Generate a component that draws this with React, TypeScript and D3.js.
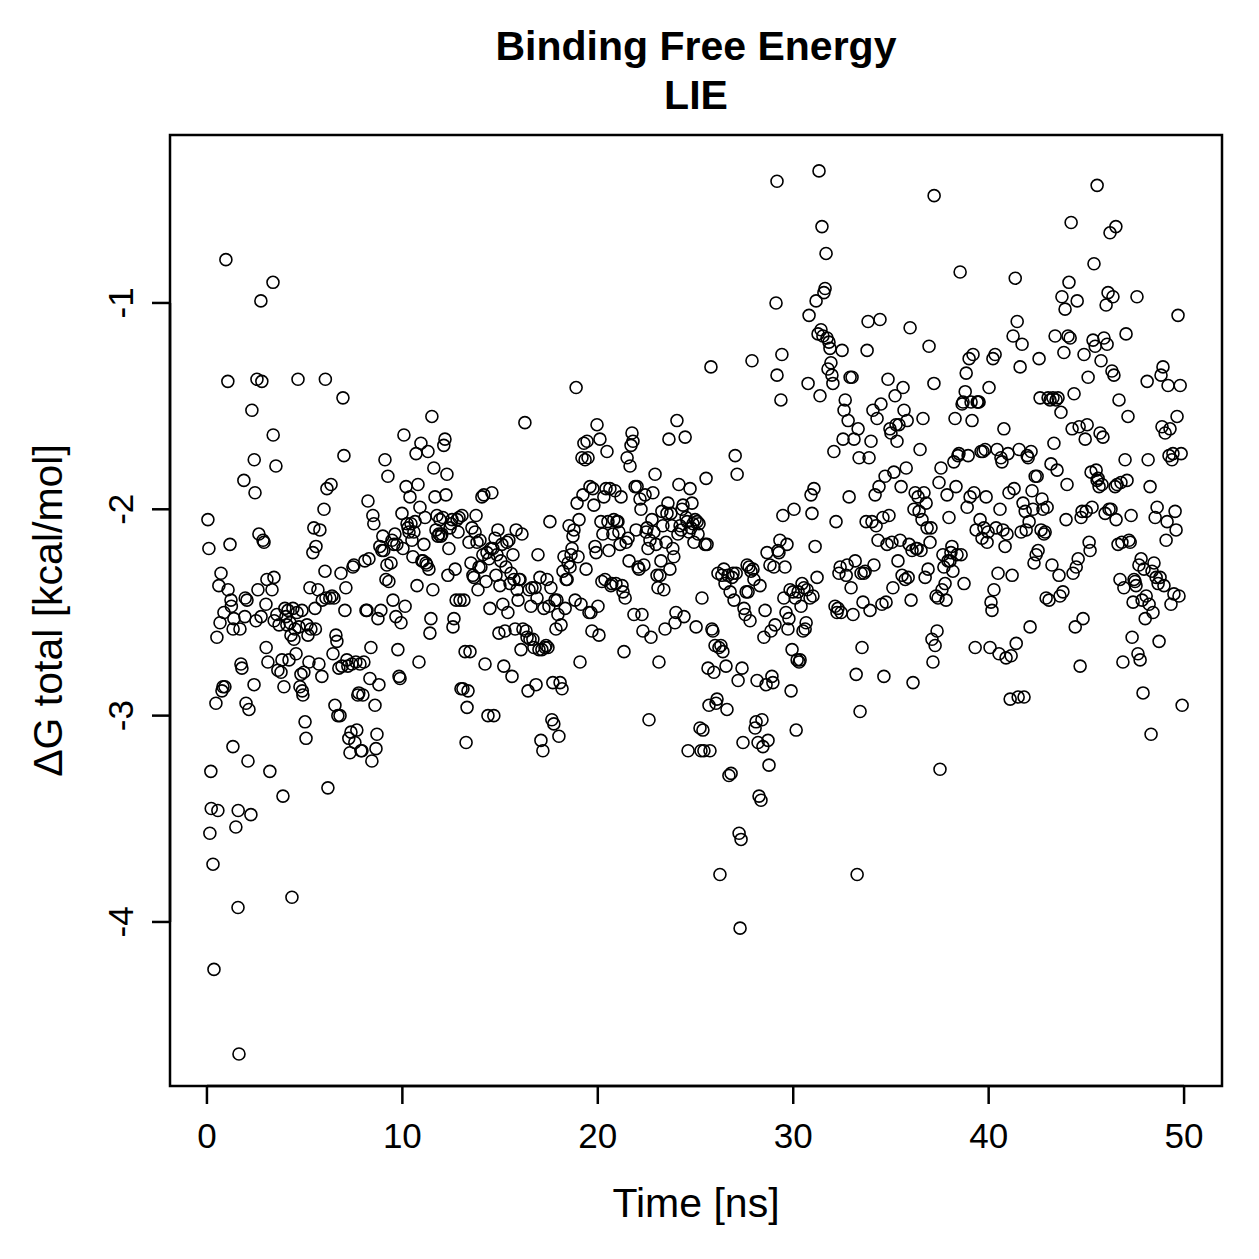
import React from 'react';
import * as d3 from 'd3';

// LIE binding free energy trace: [time (ns), dG (kcal/mol)]
const points: [number, number][] = [
  [0.05,-2.05],[0.10,-2.19],[0.15,-3.57],[0.20,-3.27],[0.22,-3.45],[0.31,-3.72],[0.36,-4.23],[0.46,-2.94],[0.51,-2.62],[0.56,-3.46],
  [0.61,-2.37],[0.67,-2.55],[0.72,-2.31],[0.77,-2.88],[0.82,-2.86],[0.87,-2.50],[0.92,-2.86],[0.97,-0.79],[1.07,-1.38],[1.08,-2.39],
  [1.18,-2.17],[1.23,-2.44],[1.25,-2.47],[1.33,-3.15],[1.34,-2.58],[1.38,-2.53],[1.48,-3.54],[1.59,-3.93],[1.60,-3.46],[1.64,-4.64],
  [1.69,-2.58],[1.74,-2.75],[1.79,-2.77],[1.89,-1.86],[1.94,-2.52],[1.96,-2.43],[2.00,-2.94],[2.05,-2.44],[2.10,-3.22],[2.15,-2.97],
  [2.25,-3.48],[2.30,-1.52],[2.41,-2.85],[2.42,-1.76],[2.46,-1.92],[2.51,-2.54],[2.56,-1.37],[2.61,-2.39],[2.66,-2.12],[2.76,-0.99],
  [2.77,-2.52],[2.81,-1.38],[2.87,-2.15],[2.92,-2.16],[3.02,-2.46],[3.03,-2.67],[3.07,-2.34],[3.12,-2.74],[3.22,-3.27],[3.33,-2.39],
  [3.38,-0.90],[3.39,-1.64],[3.43,-2.33],[3.44,-2.54],[3.53,-1.79],[3.58,-2.51],[3.63,-2.78],[3.69,-2.56],[3.79,-2.79],[3.84,-2.73],
  [3.89,-3.39],[3.94,-2.86],[3.99,-2.48],[4.04,-2.52],[4.09,-2.56],[4.15,-2.49],[4.20,-2.73],[4.25,-2.55],[4.30,-2.61],[4.35,-3.88],
  [4.40,-2.48],[4.45,-2.63],[4.50,-2.58],[4.56,-2.70],[4.61,-2.50],[4.66,-1.37],[4.71,-2.57],
  [4.76,-2.86],[4.81,-2.80],[4.86,-2.49],[4.88,-2.88],[4.91,-2.90],[4.96,-2.79],[5.02,-3.03],[5.07,-3.11],[5.12,-2.56],[5.17,-2.61],[5.22,-2.74],
  [5.27,-2.38],[5.32,-2.58],[5.42,-2.21],[5.47,-2.09],[5.53,-2.48],[5.55,-2.58],[5.58,-2.18],[5.68,-2.39],[5.73,-2.75],
  [5.78,-2.10],[5.88,-2.81],[5.90,-2.44],[5.99,-2.00],[6.04,-2.30],[6.06,-1.37],[6.09,-2.43],[6.14,-1.90],[6.19,-3.35],
  [6.29,-2.43],[6.35,-1.88],[6.40,-2.42],[6.45,-2.70],[6.50,-2.43],[6.55,-2.95],[6.60,-2.61],[6.65,-2.64],[6.70,-3.00],[6.75,-2.77],
  [6.81,-3.00],[6.86,-2.31],[6.91,-2.76],[6.96,-1.46],[7.01,-1.74],[7.06,-2.49],[7.11,-2.38],[7.16,-2.73],[7.21,-2.76],[7.26,-3.11],
  [7.32,-3.18],[7.37,-3.08],[7.42,-2.75],[7.47,-2.28],[7.52,-2.27],[7.57,-3.13],[7.62,-2.74],[7.67,-3.07],[7.72,-2.90],[7.77,-2.89],
  [7.83,-2.75],[7.88,-3.17],[7.93,-3.17],[7.98,-2.90],[8.03,-2.74],[8.08,-2.25],[8.14,-2.49],[8.19,-2.49],[8.24,-1.96],[8.29,-2.24],
  [8.34,-2.82],[8.39,-2.67],[8.44,-3.22],[8.49,-2.03],[8.54,-2.07],[8.60,-2.95],[8.65,-3.16],[8.70,-3.09],[8.75,-2.53],[8.80,-2.85],
  [8.85,-2.18],[8.90,-2.49],[8.95,-2.20],[9.00,-2.13],[9.05,-2.20],[9.11,-1.76],[9.16,-2.34],[9.21,-2.27],[9.26,-1.84],[9.31,-2.35],
  [9.42,-2.26],[9.47,-2.15],[9.52,-2.44],[9.57,-2.17],[9.62,-2.12],[9.67,-2.52],[9.72,-2.17],[9.77,-2.68],[9.83,-2.81],
  [9.88,-2.82],[9.93,-2.55],[9.98,-2.02],[10.03,-2.19],[10.08,-1.64],[10.14,-2.47],[10.19,-1.89],[10.24,-2.07],[10.29,-2.09],[10.34,-2.11],
  [10.39,-1.94],[10.44,-2.07],[10.49,-2.15],[10.54,-2.23],[10.59,-2.11],[10.65,-2.06],[10.70,-1.73],[10.75,-2.37],[10.80,-1.88],[10.85,-2.74],
  [10.90,-1.99],[10.95,-1.68],[11.00,-2.25],[11.05,-2.25],[11.10,-2.17],[11.16,-2.04],[11.21,-2.26],[11.26,-2.27],[11.31,-1.72],[11.36,-2.29],
  [11.41,-2.60],[11.46,-2.53],[11.51,-1.55],[11.56,-2.39],[11.61,-1.80],[11.67,-1.94],[11.72,-2.10],[11.77,-2.03],[11.82,-2.13],[11.87,-2.12],
  [11.92,-2.05],[11.97,-2.13],[12.02,-2.12],[12.07,-2.04],[12.12,-1.69],[12.18,-1.66],[12.23,-1.93],[12.28,-1.83],[12.33,-2.32],[12.38,-2.19],
  [12.44,-2.09],[12.49,-2.07],[12.54,-2.05],[12.59,-2.57],[12.64,-2.53],[12.70,-2.29],[12.75,-2.44],[12.80,-2.05],[12.85,-2.11],[12.90,-2.04],
  [12.95,-2.44],[13.00,-2.87],[13.05,-2.03],[13.10,-2.87],[13.15,-2.44],[13.21,-2.69],[13.26,-3.13],[13.31,-2.96],[13.36,-2.88],[13.41,-2.16],
  [13.46,-2.69],[13.51,-2.26],[13.56,-2.09],[13.61,-2.32],[13.66,-2.33],[13.72,-2.11],[13.77,-2.03],[13.82,-2.16],[13.87,-2.39],[13.92,-2.28],
  [13.97,-2.15],[14.02,-2.28],[14.07,-1.94],[14.12,-2.22],[14.17,-1.93],[14.23,-2.75],[14.28,-2.35],[14.33,-2.21],[14.38,-3.00],[14.43,-2.24],
  [14.48,-2.48],[14.53,-2.19],[14.58,-1.92],[14.63,-2.19],[14.68,-3.00],[14.74,-2.14],[14.79,-2.32],[14.84,-2.22],[14.89,-2.10],[14.94,-2.60],
  [14.99,-2.37],[15.04,-2.25],[15.09,-2.17],[15.14,-2.46],[15.19,-2.76],[15.25,-2.59],[15.30,-2.28],[15.35,-2.16],[15.40,-2.50],[15.45,-2.15],
  [15.51,-2.36],[15.56,-2.31],[15.61,-2.81],[15.66,-2.22],[15.71,-2.34],[15.77,-2.58],[15.82,-2.10],[15.87,-2.39],[15.92,-2.44],[15.97,-2.34],
  [16.02,-2.34],[16.07,-2.68],[16.12,-2.12],[16.17,-2.58],[16.27,-1.58],[16.33,-2.59],[16.38,-2.62],[16.43,-2.88],[16.48,-2.39],
  [16.53,-2.63],[16.58,-2.47],[16.63,-2.38],[16.68,-2.63],[16.73,-2.67],[16.79,-2.38],[16.84,-2.85],[16.89,-2.43],[16.94,-2.22],[16.99,-2.68],
  [17.04,-2.33],[17.09,-3.12],[17.14,-2.68],[17.19,-3.17],[17.24,-2.48],[17.30,-2.67],[17.35,-2.66],[17.40,-2.34],[17.45,-2.67],[17.50,-2.47],
  [17.55,-2.06],[17.60,-2.38],[17.65,-3.02],[17.70,-2.84],[17.75,-3.04],[17.81,-2.44],[17.86,-2.58],[17.91,-2.44],[17.96,-2.51],[18.01,-3.10],
  [18.07,-2.84],[18.12,-2.56],[18.17,-2.87],[18.22,-2.30],[18.27,-2.23],[18.33,-2.48],[18.38,-2.34],[18.43,-2.34],[18.48,-2.26],[18.53,-2.08],
  [18.58,-2.28],[18.63,-2.22],[18.68,-2.19],[18.73,-2.13],[18.78,-2.10],[18.84,-2.44],[18.89,-1.41],[18.94,-1.97],[18.99,-2.23],[19.04,-2.05],
  [19.09,-2.74],[19.14,-2.46],[19.19,-1.75],[19.24,-1.93],[19.29,-1.68],[19.35,-1.76],[19.40,-2.29],[19.45,-1.67],[19.50,-1.75],[19.55,-2.50],
  [19.60,-1.89],[19.65,-2.50],[19.70,-2.59],[19.75,-1.90],[19.80,-1.98],[19.86,-2.18],[19.91,-2.21],[19.96,-1.59],[20.01,-2.47],[20.06,-2.61],
  [20.11,-1.66],[20.16,-2.06],[20.21,-2.35],[20.26,-2.12],[20.31,-1.94],[20.37,-2.34],[20.42,-1.90],[20.47,-1.72],[20.52,-2.06],[20.57,-2.20],
  [20.62,-1.90],[20.67,-2.37],[20.72,-2.36],[20.77,-2.12],[20.82,-2.05],[20.88,-1.91],[20.93,-2.36],[20.98,-2.06],[21.03,-2.06],[21.08,-2.11],
  [21.14,-2.17],[21.19,-1.94],[21.24,-2.37],[21.29,-2.40],[21.34,-2.69],[21.40,-2.43],[21.45,-2.16],[21.50,-1.75],[21.55,-2.14],[21.60,-2.25],
  [21.65,-1.79],[21.70,-1.69],[21.75,-1.63],[21.80,-1.67],[21.85,-2.51],[21.91,-1.89],[21.96,-2.10],[22.01,-1.89],[22.06,-2.28],[22.11,-2.29],
  [22.16,-1.95],[22.21,-2.00],[22.26,-2.51],[22.31,-2.59],[22.36,-2.27],[22.42,-1.93],[22.47,-2.11],[22.52,-2.09],[22.57,-2.19],[22.62,-3.02],
  [22.67,-2.15],[22.72,-2.62],[22.77,-2.05],[22.82,-1.92],[22.87,-2.11],[22.93,-1.83],[22.98,-2.17],[23.03,-2.32],[23.08,-2.38],[23.13,-2.74],
  [23.18,-2.32],[23.23,-2.25],[23.28,-2.01],[23.33,-2.08],[23.38,-2.39],[23.44,-2.58],[23.49,-2.16],[23.54,-2.02],[23.59,-1.97],[23.64,-1.66],
  [23.69,-2.29],[23.74,-2.02],[23.79,-2.08],[23.84,-2.19],[23.89,-2.23],[23.95,-2.55],[24.00,-2.50],[24.05,-1.57],[24.10,-2.12],[24.15,-1.88],
  [24.21,-2.08],[24.26,-2.10],[24.31,-2.00],[24.36,-1.98],[24.41,-2.52],[24.47,-1.65],[24.52,-2.04],[24.57,-2.06],[24.62,-3.17],[24.67,-2.11],
  [24.72,-1.90],[24.77,-2.09],[24.82,-1.97],[24.87,-2.07],[24.92,-2.16],[24.98,-2.05],[25.03,-2.57],[25.08,-2.06],[25.13,-2.12],[25.18,-2.07],
  [25.23,-3.06],[25.28,-3.17],[25.33,-2.43],[25.38,-3.07],[25.43,-3.17],[25.49,-2.17],[25.54,-1.85],[25.59,-2.17],[25.64,-2.77],[25.69,-2.95],
  [25.74,-3.17],[25.79,-1.31],[25.84,-2.58],[25.89,-2.59],[25.94,-2.79],[26.00,-2.66],[26.05,-2.94],[26.10,-2.92],[26.15,-2.31],[26.20,-2.67],
  [26.25,-3.77],[26.30,-2.66],[26.35,-2.32],[26.40,-2.69],[26.45,-2.29],[26.51,-2.36],[26.56,-2.76],[26.61,-2.97],[26.66,-2.32],[26.71,-3.29],
  [26.77,-2.40],[26.82,-3.28],[26.87,-2.33],[26.92,-2.31],[26.97,-2.44],[27.03,-1.74],[27.08,-2.31],[27.13,-1.83],[27.18,-2.83],[27.23,-3.57],
  [27.28,-4.03],[27.33,-3.60],[27.38,-2.77],[27.43,-3.13],[27.48,-2.48],[27.54,-2.51],[27.59,-2.40],[27.64,-2.27],[27.69,-2.40],[27.74,-2.28],
  [27.79,-2.54],[27.84,-2.30],[27.89,-1.28],[27.94,-2.29],[27.99,-2.34],[28.05,-3.06],[28.10,-3.03],[28.15,-2.83],[28.20,-3.13],[28.25,-3.39],
  [28.30,-2.37],[28.35,-3.41],[28.40,-3.02],[28.45,-3.15],[28.50,-2.62],[28.56,-2.49],[28.61,-2.85],[28.66,-2.21],[28.71,-3.12],[28.76,-3.24],
  [28.81,-2.27],[28.86,-2.59],[28.91,-2.81],[28.96,-2.84],[29.01,-2.28],[29.07,-2.56],[29.12,-1.00],[29.17,-0.41],[29.17,-1.35],[29.22,-2.20],[29.27,-2.21],
  [29.32,-2.15],[29.37,-1.47],[29.42,-1.25],[29.47,-2.03],[29.52,-2.43],[29.58,-2.28],[29.63,-2.50],[29.68,-2.17],[29.73,-2.58],[29.78,-2.53],
  [29.84,-2.39],[29.89,-2.88],[29.94,-2.68],[29.99,-2.40],[30.04,-2.00],[30.10,-2.43],[30.15,-3.07],[30.20,-2.73],[30.25,-2.40],[30.30,-2.74],
  [30.35,-2.73],[30.40,-2.47],[30.45,-2.36],[30.50,-2.59],[30.55,-2.38],[30.61,-2.58],[30.66,-2.55],[30.71,-2.39],[30.76,-1.39],[30.81,-1.06],
  [30.86,-2.43],[30.91,-1.93],[30.96,-2.02],[31.01,-2.42],[31.06,-1.90],[31.12,-2.18],[31.17,-0.99],[31.22,-2.33],[31.27,-1.15],[31.32,-0.36],
  [31.37,-1.45],[31.42,-1.13],[31.47,-0.63],[31.52,-1.16],[31.57,-0.95],[31.63,-0.93],[31.68,-0.76],[31.73,-1.17],[31.78,-1.32],[31.83,-1.19],
  [31.88,-1.22],[31.93,-1.29],[31.98,-1.35],[32.03,-1.39],[32.08,-1.72],[32.14,-2.47],[32.19,-2.06],[32.24,-2.50],[32.29,-2.48],[32.34,-2.31],
  [32.40,-2.28],[32.45,-2.50],[32.50,-1.23],[32.55,-1.66],[32.60,-1.52],[32.66,-1.47],[32.71,-2.32],[32.76,-2.27],[32.81,-1.57],[32.86,-1.94],
  [32.91,-1.36],[32.96,-2.38],[33.01,-1.36],[33.06,-2.51],[33.11,-1.66],[33.17,-2.25],[33.22,-2.80],[33.27,-3.77],[33.32,-1.61],[33.37,-1.75],
  [33.42,-2.98],[33.47,-2.31],[33.52,-2.67],[33.57,-2.45],[33.62,-2.31],[33.68,-2.30],[33.73,-2.06],[33.78,-1.23],[33.83,-1.09],[33.88,-1.75],
  [33.93,-2.49],[33.98,-1.67],[34.03,-2.06],[34.08,-1.52],[34.13,-2.27],[34.19,-1.93],[34.24,-2.08],[34.29,-1.56],[34.34,-2.15],[34.39,-1.89],
  [34.44,-1.08],[34.49,-1.49],[34.54,-2.46],[34.59,-2.04],[34.64,-2.81],[34.70,-1.84],[34.75,-2.45],[34.80,-2.17],[34.85,-1.37],[34.90,-2.03],
  [34.95,-1.61],[35.00,-1.63],[35.05,-2.16],[35.10,-2.38],[35.15,-1.82],[35.21,-1.45],[35.26,-1.59],[35.31,-1.67],[35.36,-2.25],[35.41,-1.59],
  [35.47,-2.15],[35.52,-1.89],[35.57,-2.32],[35.62,-1.41],[35.67,-1.52],[35.73,-2.34],[35.78,-1.80],[35.83,-1.57],[35.88,-2.33],[35.93,-2.17],
  [35.98,-1.12],[36.03,-2.44],[36.08,-2.20],[36.13,-2.84],[36.18,-2.00],[36.24,-1.92],[36.29,-2.19],[36.34,-2.19],[36.39,-1.94],[36.44,-2.01],
  [36.49,-1.71],[36.54,-2.20],[36.59,-2.05],[36.64,-1.56],[36.69,-1.92],[36.75,-2.33],[36.80,-1.97],[36.85,-2.09],[36.90,-2.29],[36.95,-1.21],
  [37.00,-2.16],[37.05,-2.09],[37.10,-2.63],[37.15,-2.74],[37.20,-1.39],[37.21,-0.48],[37.26,-2.66],[37.31,-2.42],[37.36,-2.59],[37.41,-2.43],[37.46,-1.87],
  [37.51,-3.26],[37.56,-1.80],[37.61,-2.39],[37.66,-2.22],[37.71,-2.28],[37.77,-2.36],[37.82,-2.44],[37.87,-1.93],[37.92,-2.25],[37.97,-2.04],
  [38.02,-2.25],[38.07,-2.21],[38.12,-2.18],[38.17,-2.30],[38.22,-1.77],[38.28,-1.56],[38.33,-1.89],[38.38,-2.22],[38.43,-1.74],[38.48,-1.73],
  [38.54,-0.85],[38.59,-2.22],[38.64,-1.49],[38.69,-1.48],[38.74,-2.36],[38.80,-1.43],[38.85,-1.34],[38.90,-1.99],[38.95,-1.74],[39.00,-1.27],
  [39.05,-1.94],[39.10,-1.48],[39.15,-1.57],[39.20,-1.25],[39.25,-1.92],[39.31,-2.67],[39.36,-2.10],[39.41,-1.48],[39.46,-1.48],[39.51,-1.48],
  [39.56,-2.05],[39.61,-1.72],[39.66,-2.14],[39.71,-1.72],[39.76,-2.09],[39.82,-1.71],[39.87,-1.94],[39.92,-2.16],[39.97,-2.11],[40.02,-1.41],
  [40.07,-2.67],[40.12,-2.45],[40.17,-2.49],[40.22,-1.27],[40.27,-2.39],[40.33,-1.25],[40.38,-2.09],[40.43,-1.71],[40.48,-2.31],[40.53,-2.70],
  [40.58,-2.00],[40.63,-1.75],[40.68,-1.77],[40.73,-2.10],[40.78,-1.61],[40.84,-2.18],[40.89,-2.72],[40.94,-2.12],[40.99,-1.73],[41.04,-1.92],
  [41.10,-2.92],[41.15,-2.71],[41.20,-2.32],[41.25,-1.16],[41.30,-1.90],[41.36,-0.88],[41.41,-2.65],[41.46,-1.09],[41.51,-2.91],[41.56,-1.71],
  [41.61,-1.31],[41.66,-2.11],[41.71,-1.20],[41.76,-1.97],[41.81,-2.91],[41.87,-2.01],[41.92,-2.10],[41.97,-1.74],[42.02,-1.75],[42.07,-2.06],
  [42.12,-2.57],[42.17,-1.72],[42.22,-1.91],[42.27,-2.00],[42.32,-2.26],[42.38,-1.84],[42.43,-2.22],[42.48,-1.84],[42.53,-2.20],[42.58,-1.27],
  [42.63,-1.46],[42.68,-2.10],[42.73,-1.95],[42.78,-2.00],[42.83,-2.12],[42.89,-2.11],[42.94,-2.43],[42.99,-1.99],[43.04,-1.46],[43.09,-2.44],
  [43.14,-1.47],[43.19,-1.78],[43.24,-2.27],[43.29,-1.46],[43.34,-1.68],[43.40,-1.16],[43.45,-1.47],[43.50,-1.81],[43.55,-1.46],[43.60,-2.32],
  [43.65,-2.42],[43.70,-1.53],[43.75,-0.97],[43.80,-2.40],[43.85,-1.24],[43.91,-1.03],[43.96,-2.05],[44.01,-1.88],[44.06,-1.16],[44.11,-0.90],
  [44.17,-1.17],[44.22,-0.61],[44.27,-1.61],[44.32,-2.31],[44.37,-1.44],[44.43,-2.57],[44.48,-2.28],[44.53,-0.99],[44.58,-2.24],[44.63,-1.60],
  [44.68,-2.76],[44.73,-2.04],[44.78,-2.01],[44.83,-2.53],[44.88,-1.25],[44.94,-1.66],[44.99,-2.01],[45.04,-1.59],[45.09,-1.36],[45.14,-2.16],
  [45.19,-2.20],[45.24,-1.82],[45.29,-1.99],[45.34,-1.18],[45.39,-0.81],[45.45,-1.21],[45.50,-1.81],[45.55,-0.43],[45.55,-1.86],[45.60,-1.85],[45.65,-1.89],
  [45.70,-1.63],[45.75,-1.28],[45.80,-1.88],[45.85,-1.65],[45.90,-1.17],[45.96,-2.02],[46.01,-1.01],[46.06,-1.20],[46.11,-0.95],[46.16,-2.00],
  [46.21,-0.66],[46.26,-2.00],[46.31,-1.33],[46.36,-0.97],[46.41,-1.35],[46.47,-1.89],[46.51,-0.63],[46.52,-2.05],[46.57,-1.88],[46.62,-2.17],[46.67,-1.47],
  [46.72,-2.34],[46.77,-1.87],[46.82,-2.16],[46.87,-2.74],[46.92,-2.38],[46.98,-1.76],[47.03,-1.15],[47.08,-1.86],[47.13,-1.55],[47.18,-2.15],
  [47.24,-2.16],[47.29,-2.03],[47.34,-2.62],[47.39,-2.45],[47.44,-2.34],[47.49,-2.35],[47.54,-2.37],[47.59,-0.97],[47.64,-2.70],[47.69,-2.27],
  [47.75,-2.73],[47.80,-2.24],[47.85,-2.44],[47.90,-2.89],[47.95,-2.29],[48.01,-2.53],[48.06,-2.42],[48.11,-1.38],[48.16,-1.76],[48.21,-2.46],
  [48.26,-1.89],[48.31,-3.09],[48.36,-2.30],[48.41,-2.50],[48.46,-2.26],[48.52,-2.04],[48.57,-2.33],[48.62,-1.99],[48.67,-2.36],[48.72,-2.64],
  [48.77,-2.33],[48.82,-1.35],[48.87,-1.60],[48.92,-1.31],[48.97,-2.37],[49.03,-1.63],[49.08,-2.15],[49.13,-2.06],[49.18,-1.40],[49.23,-1.74],
  [49.28,-1.61],[49.33,-2.46],[49.38,-1.76],[49.43,-1.73],[49.48,-2.41],[49.54,-2.01],[49.59,-2.10],[49.64,-1.55],[49.69,-1.06],[49.74,-2.42],
  [49.80,-1.40],[49.85,-1.73],[49.90,-2.95],
];

const xTicks = [0, 10, 20, 30, 40, 50];
const yTicks = [-1, -2, -3, -4];
const titleLines = ['Binding Free Energy', 'LIE'];
const xLabel = 'Time [ns]';
const yLabel = 'ΔG total [kcal/mol]';

const W = 1259;
const H = 1259;
const plot = { left: 170, right: 1222, top: 135, bottom: 1086 };
const font = '"Liberation Sans", Arial, Helvetica, sans-serif';

export default function App() {
  const x = d3.scaleLinear().domain([-1.89, 51.94]).range([plot.left, plot.right]);
  const y = d3.scaleLinear().domain([-4.795, -0.186]).range([plot.bottom, plot.top]);
  const cx = (plot.left + plot.right) / 2;
  const cy = (plot.top + plot.bottom) / 2;

  return (
    <svg width={W} height={H} style={{ position: 'absolute', left: 0, top: 0, background: '#fff' }}
      fontFamily={font}>
      <rect width={W} height={H} fill="#fff" />
      {/* title */}
      {titleLines.map((t, i) => (
        <text key={t} x={cx} y={60 + i * 49} textAnchor="middle" fontWeight="bold" fontSize={41}>{t}</text>
      ))}

      {/* points */}
      <g fill="none" stroke="#000" strokeWidth={1.6}>
        {points.map(([t, v], i) => (
          <circle key={i} cx={x(t)} cy={y(v)} r={6} />
        ))}
      </g>

      {/* box */}
      <rect x={plot.left} y={plot.top} width={plot.right - plot.left} height={plot.bottom - plot.top}
        fill="none" stroke="#000" strokeWidth={2.5} />

      {/* x axis */}
      <line x1={x(xTicks[0])} x2={x(xTicks[xTicks.length - 1])} y1={plot.bottom} y2={plot.bottom} stroke="#000" strokeWidth={2.5} />
      {xTicks.map(t => (
        <g key={t}>
          <line x1={x(t)} x2={x(t)} y1={plot.bottom} y2={plot.bottom + 18} stroke="#000" strokeWidth={2.5} />
          <text x={x(t)} y={1148} textAnchor="middle" fontSize={35}>{t}</text>
        </g>
      ))}
      <text x={cx} y={1217} textAnchor="middle" fontSize={41}>{xLabel}</text>

      {/* y axis */}
      <line x1={plot.left} x2={plot.left} y1={y(yTicks[0])} y2={y(yTicks[yTicks.length - 1])} stroke="#000" strokeWidth={2.5} />
      {yTicks.map(t => (
        <g key={t}>
          <line x1={plot.left - 18} x2={plot.left} y1={y(t)} y2={y(t)} stroke="#000" strokeWidth={2.5} />
          <text transform={`translate(133,${y(t)}) rotate(-90)`} textAnchor="middle" fontSize={35}>{t}</text>
        </g>
      ))}
      <text transform={`translate(62,${cy}) rotate(-90)`} textAnchor="middle" fontSize={41}>{yLabel}</text>
    </svg>
  );
}
